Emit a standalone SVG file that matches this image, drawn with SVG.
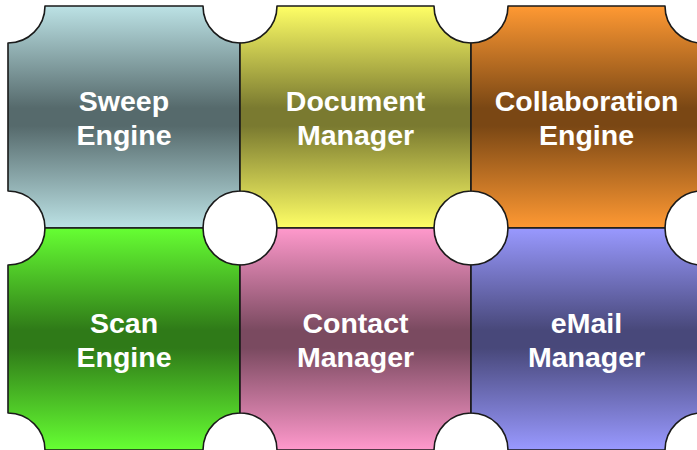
<svg xmlns="http://www.w3.org/2000/svg" width="697" height="450" viewBox="0 0 697 450">
<style>
.tile{stroke:#1a1a1a;stroke-width:1.6;stroke-linejoin:round}
.lbl{font-family:"Liberation Sans",Arial,sans-serif;font-weight:bold;font-size:28.5px;fill:#ffffff;text-anchor:middle}
</style>
<defs>
<linearGradient id="gSweep" x1="0" y1="0" x2="0" y2="1"><stop offset="0" stop-color="#BCE2E5"/><stop offset="0.46" stop-color="#566A6C"/><stop offset="0.54" stop-color="#566A6C"/><stop offset="1" stop-color="#BCE2E5"/></linearGradient>
<linearGradient id="gDoc" x1="0" y1="0" x2="0" y2="1"><stop offset="0" stop-color="#FFFF66"/><stop offset="0.46" stop-color="#7A7A30"/><stop offset="0.54" stop-color="#7A7A30"/><stop offset="1" stop-color="#FFFF66"/></linearGradient>
<linearGradient id="gCollab" x1="0" y1="0" x2="0" y2="1"><stop offset="0" stop-color="#FF9933"/><stop offset="0.46" stop-color="#7A4714"/><stop offset="0.54" stop-color="#7A4714"/><stop offset="1" stop-color="#FF9933"/></linearGradient>
<linearGradient id="gScan" x1="0" y1="0" x2="0" y2="1"><stop offset="0" stop-color="#66FF33"/><stop offset="0.46" stop-color="#2F7A18"/><stop offset="0.54" stop-color="#2F7A18"/><stop offset="1" stop-color="#66FF33"/></linearGradient>
<linearGradient id="gContact" x1="0" y1="0" x2="0" y2="1"><stop offset="0" stop-color="#FF99CC"/><stop offset="0.46" stop-color="#7A4A60"/><stop offset="0.54" stop-color="#7A4A60"/><stop offset="1" stop-color="#FF99CC"/></linearGradient>
<linearGradient id="gMail" x1="0" y1="0" x2="0" y2="1"><stop offset="0" stop-color="#9999FF"/><stop offset="0.46" stop-color="#48487A"/><stop offset="0.54" stop-color="#48487A"/><stop offset="1" stop-color="#9999FF"/></linearGradient>
</defs>
<rect width="697" height="450" fill="#ffffff"/>
<g id="sweep-engine">
<path class="tile" fill="url(#gSweep)" d="M45,6 H203 A37,37 0 0 0 240,43 V191 A37,37 0 0 0 203,228 H45 A37,37 0 0 0 8,191 V43 A37,37 0 0 0 45,6 Z"/>
<text class="lbl" x="124" y="110.5">Sweep</text>
<text class="lbl" x="124" y="145">Engine</text>
</g>
<g id="document-manager">
<path class="tile" fill="url(#gDoc)" d="M277,6 H434 A37,37 0 0 0 471,43 V191 A37,37 0 0 0 434,228 H277 A37,37 0 0 0 240,191 V43 A37,37 0 0 0 277,6 Z"/>
<text class="lbl" x="355.5" y="110.5">Document</text>
<text class="lbl" x="355.5" y="145">Manager</text>
</g>
<g id="collaboration-engine">
<path class="tile" fill="url(#gCollab)" d="M508,6 H665 A37,37 0 0 0 702,43 V191 A37,37 0 0 0 665,228 H508 A37,37 0 0 0 471,191 V43 A37,37 0 0 0 508,6 Z"/>
<text class="lbl" x="586.5" y="110.5">Collaboration</text>
<text class="lbl" x="586.5" y="145">Engine</text>
</g>
<g id="scan-engine">
<path class="tile" fill="url(#gScan)" d="M45,228 H203 A37,37 0 0 0 240,265 V413 A37,37 0 0 0 203,450 H45 A37,37 0 0 0 8,413 V265 A37,37 0 0 0 45,228 Z"/>
<text class="lbl" x="124" y="332.5">Scan</text>
<text class="lbl" x="124" y="367">Engine</text>
</g>
<g id="contact-manager">
<path class="tile" fill="url(#gContact)" d="M277,228 H434 A37,37 0 0 0 471,265 V413 A37,37 0 0 0 434,450 H277 A37,37 0 0 0 240,413 V265 A37,37 0 0 0 277,228 Z"/>
<text class="lbl" x="355.5" y="332.5">Contact</text>
<text class="lbl" x="355.5" y="367">Manager</text>
</g>
<g id="email-manager">
<path class="tile" fill="url(#gMail)" d="M508,228 H665 A37,37 0 0 0 702,265 V413 A37,37 0 0 0 665,450 H508 A37,37 0 0 0 471,413 V265 A37,37 0 0 0 508,228 Z"/>
<text class="lbl" x="586.5" y="332.5">eMail</text>
<text class="lbl" x="586.5" y="367">Manager</text>
</g>
<g id="connectors"></g>
</svg>
